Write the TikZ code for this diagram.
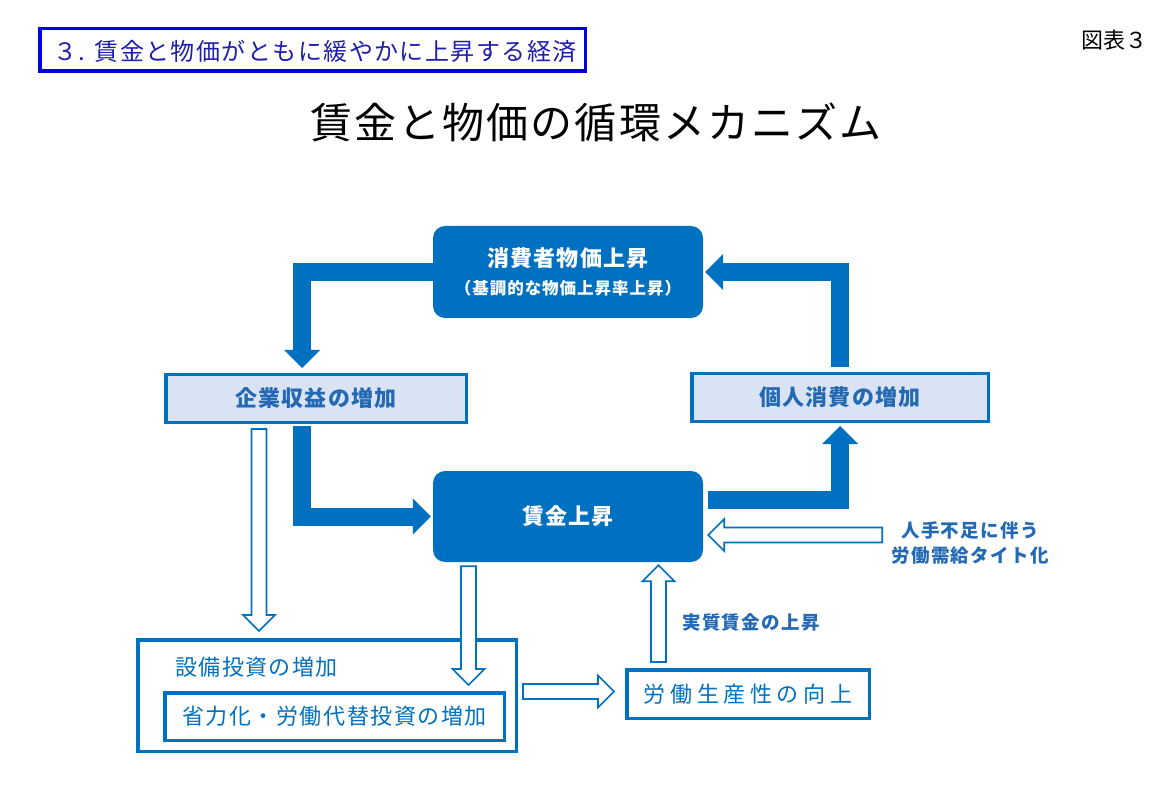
\documentclass[tikz,border=0pt]{standalone}
\usepackage{fontspec}
\setmainfont{Noto Sans CJK JP}
\usetikzlibrary{calc,arrows.meta}
\definecolor{mblue}{RGB}{0,112,192}
\definecolor{lightfill}{RGB}{218,227,243}
\definecolor{txtblue}{RGB}{35,105,180}
\definecolor{lblborder}{RGB}{0,0,230}
\definecolor{lbltext}{RGB}{30,30,170}
\newcommand\ft[3]{\fontsize{#1}{#2}\selectfont\addfontfeatures{LetterSpace=#3}}
\newcommand\hollowarrow[2]{%
  \coordinate (hh) at ($(#2)!16pt!(#1)$);
  \draw[hollowst] ($(#1)!7.5pt!90:(#2)$) -- ($(hh)!7.5pt!90:(#2)$) -- ($(hh)!16pt!90:(#2)$) -- (#2)
    -- ($(hh)!16pt!-90:(#2)$) -- ($(hh)!7.5pt!-90:(#2)$) -- ($(#1)!7.5pt!-90:(#2)$) -- cycle;}
\begin{document}
\begin{tikzpicture}[x=1pt,y=-1pt,
  darkbox/.style={fill=mblue,rounded corners=12pt,inner sep=0pt},
  lightbox/.style={draw=mblue,fill=lightfill,line width=3.5pt,inner sep=0pt,text=txtblue,font=\bfseries\ft{22}{24}{6}},
  whitebox/.style={draw=mblue,fill=white,line width=3.5pt,inner sep=0pt},
  darktext/.style={text=white,inner sep=0pt},
  thickarr/.style={draw=mblue,line width=18pt,line join=miter,-{Triangle[width=36pt,length=18pt,line width=0pt]}},
  hollowst/.style={draw=mblue,fill=white,line width=1.6pt,line join=miter},
  sidelbl/.style={text=txtblue,inner sep=0pt,align=center,font=\bfseries\ft{18.5}{25}{7}}]
\useasboundingbox (0,0) rectangle (1176,786);
\fill[white] (0,0) rectangle (1176,786);

% header
\node[draw=lblborder,line width=3.5pt,minimum width=545.5pt,minimum height=42.5pt,inner sep=0pt] (label) at (312.5,50) {};
\node[text=lbltext,inner sep=0pt,font=\ft{24}{24}{6}] (labeltext) at (315,51) {３. 賃金と物価がともに緩やかに上昇する経済};
\node[inner sep=0pt,font=\ft{22}{22}{0}] (zuhyo) at (1114,40) {図表３};
\node[inner sep=0pt,font=\ft{42}{42}{5}] (title) at (596,122) {賃金と物価の循環メカニズム};

% main boxes
\node[darkbox,minimum width=270pt,minimum height=92pt] (top) at (568,272) {};
\node[darktext,font=\bfseries\ft{22}{22}{5}] (toptext1) at (568,258) {消費者物価上昇};
\node[darktext,font=\bfseries\ft{16.5}{16}{6}] (toptext2) at (568,288) {（基調的な物価上昇率上昇）};
\node[lightbox,minimum width=300.5pt,minimum height=47.5pt] (kigyo) at (316,398.5) {企業収益の増加};
\node[lightbox,minimum width=296.5pt,minimum height=47.5pt] (kojin) at (840,397.5) {個人消費の増加};
\node[darkbox,minimum width=270pt,minimum height=91pt,text=white,font=\bfseries\ft{22}{24}{5}] (chingin) at (568,516.5) {賃金上昇};

\node[whitebox,minimum width=378.5pt,minimum height=111.5pt] (setsubi) at (327,695.5) {};
\node[text=mblue,inner sep=0pt,font=\ft{22}{24}{6}] (setsubitext) at (256.5,667) {設備投資の増加};
\node[whitebox,minimum width=339.5pt,minimum height=47.5pt,text=mblue,font=\ft{22}{24}{7}] (shoryoku) at (334.5,716.5) {省力化・労働代替投資の増加};
\node[whitebox,minimum width=242.5pt,minimum height=48.5pt,text=mblue,font=\ft{22}{24}{21}] (rodo) at (748,694) {労働生産性の向上};

\node[sidelbl] (tight) at (970,542.5) {人手不足に伴う\\労働需給タイト化};
\node[sidelbl] (jisshitsu) at (751,622) {実質賃金の上昇};

% thick cycle arrows
\draw[thickarr] (top.west) -| ([xshift=-14pt,yshift=5pt]kigyo.north);
\draw[thickarr] ([yshift=5pt]kojin.north) |- ([xshift=2pt]top.east);
\draw[thickarr] ([xshift=-14pt,yshift=-2pt]kigyo.south) |- ([xshift=-2pt]chingin.west);
\draw[thickarr] ([xshift=5pt,yshift=17pt]chingin.east) -| ([yshift=-3pt]kojin.south);

% hollow arrows
\coordinate (a1) at ([xshift=-57pt,yshift=-5pt]kigyo.south);
\coordinate (a2) at ($(a1 |- setsubi.north)+(0,-7)$);
\hollowarrow{a1}{a2}
\coordinate (b1) at ([xshift=-99.5pt,yshift=-4pt]chingin.south);
\coordinate (b2) at ($(b1 |- shoryoku.north)+(0,-6)$);
\hollowarrow{b1}{b2}
\coordinate (c1) at ([xshift=5pt,yshift=4pt]setsubi.east);
\coordinate (c2) at ($(c1 -| rodo.west)+(-11,0)$);
\hollowarrow{c1}{c2}
\coordinate (d1) at ([xshift=-89.5pt,yshift=6pt]rodo.north);
\coordinate (d2) at ($(d1 |- chingin.south)+(0,3)$);
\hollowarrow{d1}{d2}
\coordinate (e1) at ([xshift=179pt,yshift=-18.5pt]chingin.east);
\coordinate (e2) at ($(chingin.east |- e1)+(5,0)$);
\hollowarrow{e1}{e2}
\end{tikzpicture}
\end{document}
